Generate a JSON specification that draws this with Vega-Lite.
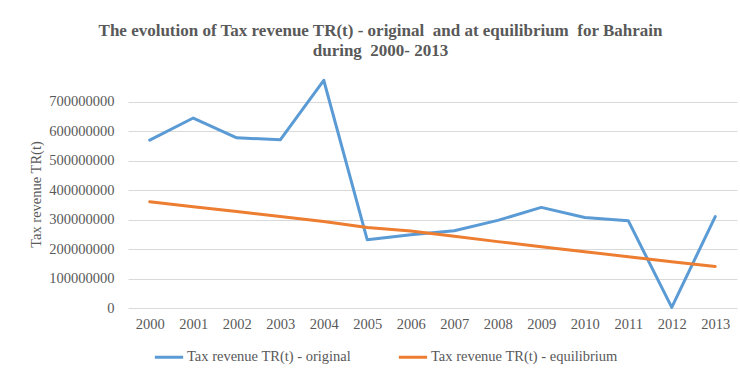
{
  "$schema": "https://vega.github.io/schema/vega-lite/v6.json",
  "autosize": "none",
  "width": 609,
  "height": 236,
  "padding": {"left": 128, "top": 72, "right": 3, "bottom": 61},
  "background": "white",
  "config": {
    "view": {"stroke": null},
    "font": "Liberation Serif"
  },
  "title": {
    "text": ["The evolution of Tax revenue TR(t) - original \u00a0and at equilibrium \u00a0for Bahrain", "during \u00a02000- 2013"],
    "font": "Liberation Serif",
    "fontSize": 17,
    "fontWeight": "bold",
    "color": "#595959",
    "lineHeight": 20,
    "anchor": "middle",
    "dx": -52,
    "offset": 12
  },
  "data": {
    "values": [
      {"year": "2000", "series": "Tax revenue TR(t) - original", "value": 569000000},
      {"year": "2001", "series": "Tax revenue TR(t) - original", "value": 644000000},
      {"year": "2002", "series": "Tax revenue TR(t) - original", "value": 577000000},
      {"year": "2003", "series": "Tax revenue TR(t) - original", "value": 570000000},
      {"year": "2004", "series": "Tax revenue TR(t) - original", "value": 772000000},
      {"year": "2005", "series": "Tax revenue TR(t) - original", "value": 231000000},
      {"year": "2006", "series": "Tax revenue TR(t) - original", "value": 248000000},
      {"year": "2007", "series": "Tax revenue TR(t) - original", "value": 262000000},
      {"year": "2008", "series": "Tax revenue TR(t) - original", "value": 297000000},
      {"year": "2009", "series": "Tax revenue TR(t) - original", "value": 341000000},
      {"year": "2010", "series": "Tax revenue TR(t) - original", "value": 307000000},
      {"year": "2011", "series": "Tax revenue TR(t) - original", "value": 296000000},
      {"year": "2012", "series": "Tax revenue TR(t) - original", "value": 2000000},
      {"year": "2013", "series": "Tax revenue TR(t) - original", "value": 310000000},
      {"year": "2000", "series": "Tax revenue TR(t) - equilibrium", "value": 360000000},
      {"year": "2001", "series": "Tax revenue TR(t) - equilibrium", "value": 343000000},
      {"year": "2002", "series": "Tax revenue TR(t) - equilibrium", "value": 327000000},
      {"year": "2003", "series": "Tax revenue TR(t) - equilibrium", "value": 310000000},
      {"year": "2004", "series": "Tax revenue TR(t) - equilibrium", "value": 293000000},
      {"year": "2005", "series": "Tax revenue TR(t) - equilibrium", "value": 273000000},
      {"year": "2006", "series": "Tax revenue TR(t) - equilibrium", "value": 261000000},
      {"year": "2007", "series": "Tax revenue TR(t) - equilibrium", "value": 243000000},
      {"year": "2008", "series": "Tax revenue TR(t) - equilibrium", "value": 225000000},
      {"year": "2009", "series": "Tax revenue TR(t) - equilibrium", "value": 208000000},
      {"year": "2010", "series": "Tax revenue TR(t) - equilibrium", "value": 191000000},
      {"year": "2011", "series": "Tax revenue TR(t) - equilibrium", "value": 174000000},
      {"year": "2012", "series": "Tax revenue TR(t) - equilibrium", "value": 157000000},
      {"year": "2013", "series": "Tax revenue TR(t) - equilibrium", "value": 141000000}
    ]
  },
  "mark": {"type": "line", "strokeWidth": 3, "strokeCap": "round", "strokeJoin": "round"},
  "encoding": {
    "x": {
      "field": "year",
      "type": "ordinal",
      "scale": {"type": "point", "padding": 0.5},
      "axis": {
        "title": null,
        "labelAngle": 0,
        "ticks": false,
        "domain": false,
        "grid": false,
        "labelFont": "Liberation Serif",
        "labelFontSize": 14.5,
        "labelColor": "#595959",
        "labelPadding": 9
      }
    },
    "y": {
      "field": "value",
      "type": "quantitative",
      "scale": {"domain": [0, 800000000], "nice": false},
      "axis": {
        "title": "Tax revenue TR(t)",
        "titleFont": "Liberation Serif",
        "titleFontSize": 14.5,
        "titleFontWeight": "normal",
        "titleColor": "#595959",
        "titleX": -85,
        "titleY": 122,
        "values": [0, 100000000, 200000000, 300000000, 400000000, 500000000, 600000000, 700000000],
        "format": "d",
        "ticks": false,
        "domain": false,
        "gridColor": "#d9d9d9",
        "gridWidth": 1,
        "labelFont": "Liberation Serif",
        "labelFontSize": 14.5,
        "labelColor": "#595959",
        "labelPadding": 14
      }
    },
    "color": {
      "field": "series",
      "type": "nominal",
      "scale": {
        "domain": ["Tax revenue TR(t) - original", "Tax revenue TR(t) - equilibrium"],
        "range": ["#5B9BD5", "#ED7D31"]
      },
      "legend": {
        "title": null,
        "orient": "none",
        "direction": "horizontal",
        "legendX": 25,
        "legendY": 269,
        "symbolType": "stroke",
        "symbolSize": 800,
        "symbolStrokeWidth": 3,
        "labelFont": "Liberation Serif",
        "labelFontSize": 14.5,
        "labelColor": "#595959",
        "labelLimit": 400,
        "columnPadding": 40,
        "labelOffset": 2
      }
    }
  }
}
